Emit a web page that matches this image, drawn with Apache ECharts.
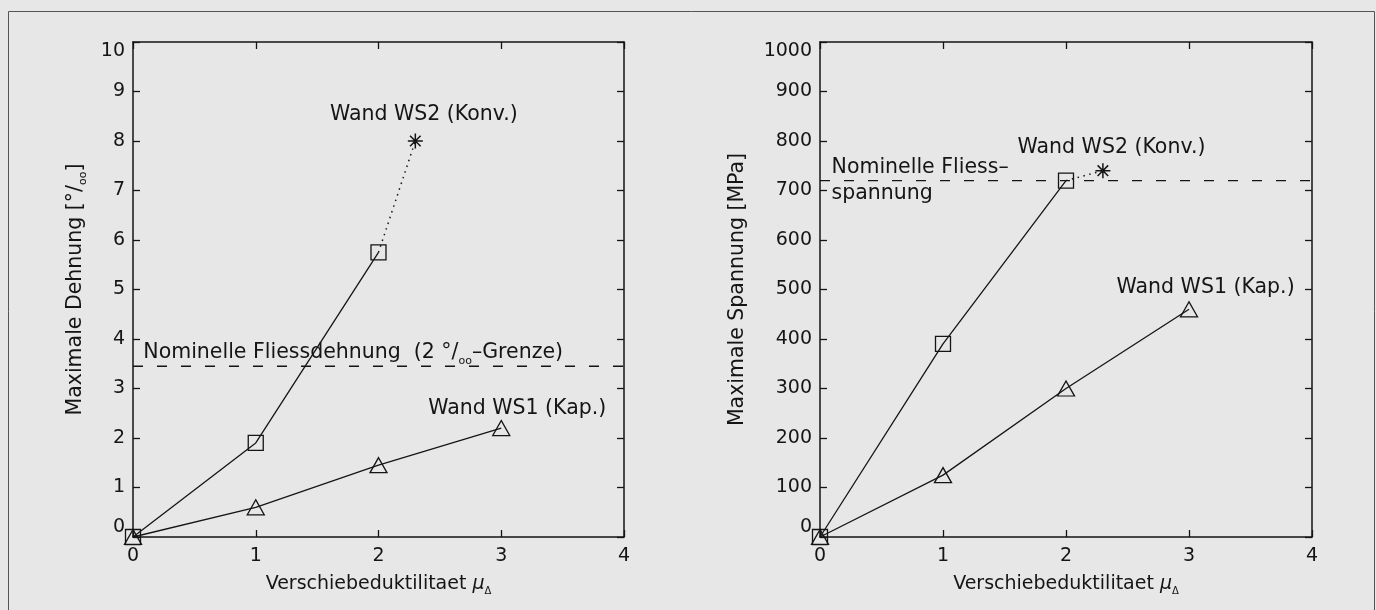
<!DOCTYPE html>
<html>
<head>
<meta charset="utf-8">
<script src="https://cdn.jsdelivr.net/npm/echarts@6/dist/echarts.min.js"></script>
<style>
html,body{margin:0;padding:0;background:#e7e7e7;}
#c{width:1376px;height:610px;}
</style>
</head>
<body>
<div id="c"></div>
<script>
// ---- data ----
const ductility = [0, 1, 2, 3];
const strainWS1 = [0, 0.6, 1.45, 2.2];
const strainWS2 = [0, 1.9, 5.75];
const stressWS1 = [0, 125, 300, 460];
const stressWS2 = [0, 390, 720];
const ws2FinalDuctility = 2.3;
const strainWS2Final = 8.0;
const stressWS2Final = 740;
const yieldStrain = 3.45;
const yieldStress = 720;
const xRange = [0, 4];
const strainRange = [0, 10];
const stressRange = [0, 1000];
const leftNotes = [
  {name: 'Wand WS2 (Konv.)', value: [2.37, 8.53], pos: 'inside'},
  {name: 'Wand WS1 (Kap.)', value: [3.13, 2.6], pos: 'inside'},
  {name: 'Nominelle Fliessdehnung  (2 °/{s|oo}–Grenze)', value: [0.08, 3.72], pos: 'right'}
];
const rightNotes = [
  {name: 'Wand WS2 (Konv.)', value: [2.37, 787], pos: 'inside'},
  {name: 'Wand WS1 (Kap.)', value: [3.135, 504], pos: 'inside'},
  {name: 'Nominelle Fliess–', value: [0.09, 747], pos: 'right'},
  {name: 'spannung', value: [0.09, 694], pos: 'right'}
];

// ---- styles ----
const ink = '#151515';
const font = 'DejaVu Sans';
const star = 'path://M0 9L20 9L20 11L0 11Z M9 0L11 0L11 20L9 20Z M2.22 3.64L3.64 2.22L17.78 16.36L16.36 17.78Z M16.36 2.22L17.78 3.64L3.64 17.78L2.22 16.36Z';
const subRich = {s: {fontSize: 11, fontFamily: font, color: ink, verticalAlign: 'bottom', lineHeight: 27}};

function zip(xs, ys) { return ys.map((y, i) => [xs[i], y]); }

function xAx(grid, pos, labels) {
  return {
    type: 'value', gridIndex: grid, position: pos, min: xRange[0], max: xRange[1], interval: 1,
    axisLine: {show: true, onZero: false, lineStyle: {color: ink, width: 1.5}},
    axisTick: {show: true, inside: true, length: 7, lineStyle: {color: ink, width: 1.3}},
    axisLabel: {show: labels, color: ink, fontFamily: font, fontSize: 19, margin: 10},
    splitLine: {show: false},
    name: labels ? 'Verschiebeduktilitaet {mu|μ}{d|Δ}' : '',
    nameLocation: 'middle', nameGap: 33,
    nameTextStyle: {color: ink, fontFamily: font, fontSize: 19, lineHeight: 26,
      rich: {mu: {fontSize: 19, fontStyle: 'italic', fontFamily: font, color: ink, lineHeight: 26},
             d: {fontSize: 10, fontFamily: font, color: ink, verticalAlign: 'bottom', lineHeight: 26}}}
  };
}
function yAx(grid, pos, range, step, labels, name, gap) {
  return {
    type: 'value', gridIndex: grid, position: pos, min: range[0], max: range[1], interval: step,
    axisLine: {show: true, onZero: false, lineStyle: {color: ink, width: 1.5}},
    axisTick: {show: true, inside: true, length: 7, lineStyle: {color: ink, width: 1.3}},
    axisLabel: {show: labels, color: ink, fontFamily: font, fontSize: 19, margin: 8,
      formatter: v => String(v),
      verticalAlignMaxLabel: 'top', verticalAlignMinLabel: 'bottom'},
    splitLine: {show: false},
    name: labels ? name : '', nameLocation: 'middle', nameGap: gap, nameRotate: 90,
    nameTextStyle: {color: ink, fontFamily: font, fontSize: 20.5, lineHeight: 27, rich: subRich}
  };
}
function curve(xi, yi, data, sym, size) {
  return {
    type: 'line', xAxisIndex: xi, yAxisIndex: yi, data: data, symbol: sym, symbolSize: size,
    showSymbol: true, clip: false, animation: false, silent: true, z: 3,
    lineStyle: {color: ink, width: 1.3},
    itemStyle: {color: 'rgba(0,0,0,0)', borderColor: ink, borderWidth: 1.3}
  };
}
function extension(xi, yi, from, to) {
  return {
    type: 'line', xAxisIndex: xi, yAxisIndex: yi, animation: false, silent: true, z: 3,
    data: [{value: from, symbol: 'none'}, {value: to, symbol: star, symbolSize: 15}],
    lineStyle: {color: ink, width: 1.5, type: [1.5, 4.5]},
    itemStyle: {color: ink}
  };
}
function yieldLine(xi, yi, y) {
  return {
    type: 'line', xAxisIndex: xi, yAxisIndex: yi, animation: false, silent: true, symbol: 'none', z: 2,
    data: [[xRange[0], y], [xRange[1], y]],
    lineStyle: {color: ink, width: 1.3, type: [10, 14]}
  };
}
function notes(xi, yi, list) {
  return {
    type: 'scatter', xAxisIndex: xi, yAxisIndex: yi, animation: false, silent: true, symbolSize: 1, z: 5,
    itemStyle: {color: 'rgba(0,0,0,0)', opacity: 1},
    data: list.map(n => ({name: n.name, value: n.value,
      label: {show: true, position: n.pos, distance: 0, formatter: n.name, opacity: 1,
        color: ink, fontFamily: font, fontSize: 20.5, lineHeight: 27, rich: subRich}}))
  };
}

const chart = echarts.init(document.getElementById('c'), null, {renderer: 'canvas'});
chart.setOption({
  backgroundColor: '#e7e7e7',
  animation: false,
  graphic: [{type: 'rect', shape: {x: 8.5, y: 11.5, width: 1366, height: 620},
    style: {fill: 'none', stroke: '#555', lineWidth: 1}, silent: true}],
  grid: [
    {left: 133, top: 42, width: 491, height: 495},
    {left: 820, top: 42, width: 492, height: 495}
  ],
  xAxis: [xAx(0, 'bottom', true), xAx(0, 'top', false), xAx(1, 'bottom', true), xAx(1, 'top', false)],
  yAxis: [
    yAx(0, 'left', strainRange, 1, true, 'Maximale Dehnung [°/{s|oo}]', 44),
    yAx(0, 'right', strainRange, 1, false, '', 0),
    yAx(1, 'left', stressRange, 100, true, 'Maximale Spannung [MPa]', 69),
    yAx(1, 'right', stressRange, 100, false, '', 0)
  ],
  series: [
    yieldLine(0, 0, yieldStrain),
    curve(0, 0, zip(ductility, strainWS2), 'rect', 15),
    extension(0, 0, [ductility[2], strainWS2[2]], [ws2FinalDuctility, strainWS2Final]),
    curve(0, 0, zip(ductility, strainWS1), 'triangle', [17, 15]),
    notes(0, 0, leftNotes),
    yieldLine(2, 2, yieldStress),
    curve(2, 2, zip(ductility, stressWS2), 'rect', 15),
    extension(2, 2, [ductility[2], stressWS2[2]], [ws2FinalDuctility, stressWS2Final]),
    curve(2, 2, zip(ductility, stressWS1), 'triangle', [17, 15]),
    notes(2, 2, rightNotes)
  ]
});
</script>
</body>
</html>
